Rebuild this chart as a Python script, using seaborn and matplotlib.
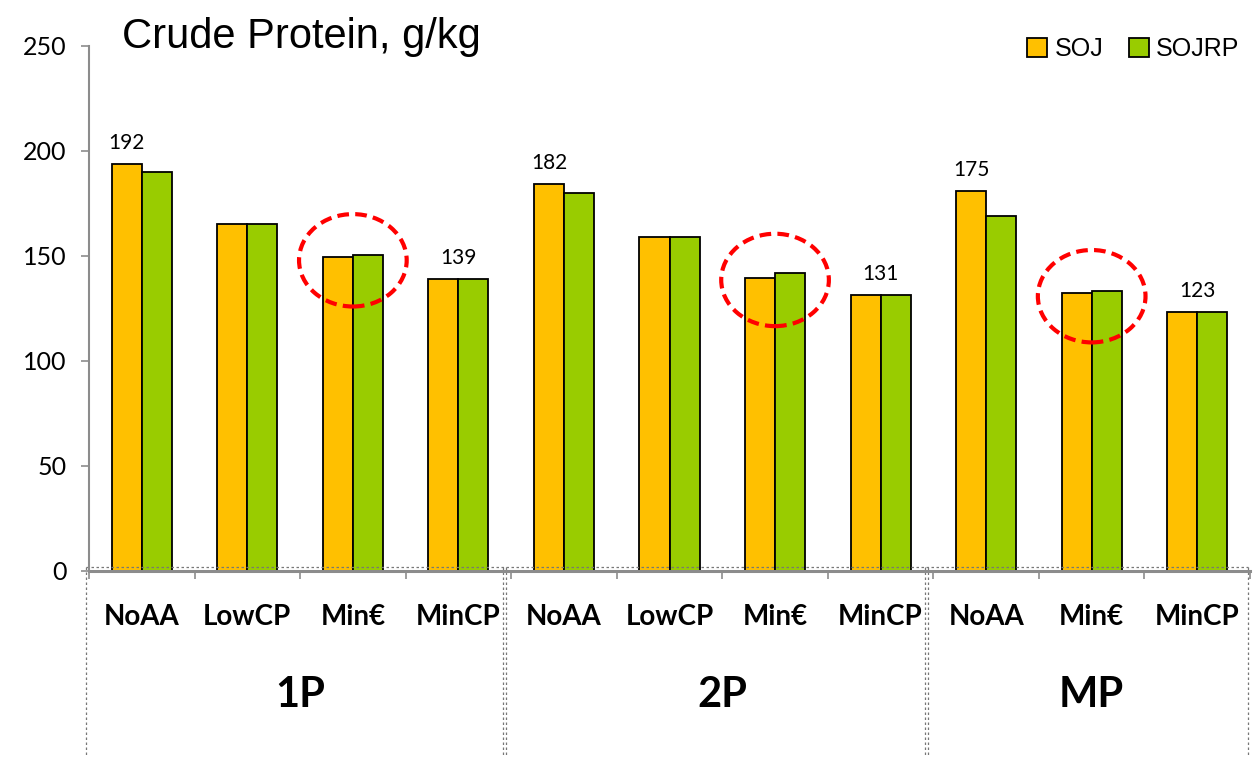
import numpy as np
import pandas as pd
import seaborn as sns
from matplotlib import pyplot as plt
from matplotlib.patches import Ellipse

# ---------------------------------------------------------------------------
# Data
# ---------------------------------------------------------------------------
groups = ["1P", "1P", "1P", "1P", "2P", "2P", "2P", "2P", "MP", "MP", "MP"]
diets = ["NoAA", "LowCP", "Min€", "MinCP",
         "NoAA", "LowCP", "Min€", "MinCP",
         "NoAA", "Min€", "MinCP"]
soj = [193.8, 165.4, 149.3, 139.0, 184.1, 158.9, 139.5, 131.4, 180.8, 132.4, 123.3]
sojrp = [190.0, 165.4, 150.6, 139.0, 180.1, 158.9, 141.7, 131.4, 169.0, 133.3, 123.3]
series_names = ["SOJ", "SOJRP"]

group_names = ["1P", "2P", "MP"]

# value labels: (category index, text, over SOJ bar only?)
value_labels = [(0, "192", True), (3, "139", False),
                (4, "182", True), (7, "131", False),
                (8, "175", True), (10, "123", False)]

# categories circled in red
highlight = [2, 6, 9]

ORANGE = "#FFC000"
GREEN = "#99CC00"

# ---------------------------------------------------------------------------
keys = [f"{g} {d}" for g, d in zip(groups, diets)]
df = pd.DataFrame({"key": keys, "SOJ": soj, "SOJRP": sojrp})
long = df.melt(id_vars="key", var_name="series", value_name="value")

sns.set_theme(style="white")
plt.rcParams["font.family"] = ["Lato", "DejaVu Sans"]
plt.rcParams["text.color"] = "black"
plt.rcParams["xtick.labelcolor"] = "black"
plt.rcParams["ytick.labelcolor"] = "black"

fig = plt.figure(figsize=(12.56, 7.57), dpi=100)
ax = fig.add_axes([89 / 1256, 1 - 571 / 757, 1161 / 1256, 525 / 757])

sns.barplot(data=long, x="key", y="value", hue="series", order=keys,
            hue_order=series_names, palette=[ORANGE, GREEN], saturation=1,
            width=0.57, gap=0, edgecolor="black", linewidth=1.3, ax=ax)

handles, labels = ax.get_legend_handles_labels()
ax.get_legend().remove()

ax.set_xlim(-0.5, len(keys) - 0.5)
ax.set_ylim(0, 250)
ax.set_yticks(np.arange(0, 251, 50))
ax.set_xlabel("")
ax.set_ylabel("")

for s in ["top", "right"]:
    ax.spines[s].set_visible(False)
ax.spines["left"].set_color("#8c8c8c")
ax.spines["left"].set_linewidth(1.5)
ax.spines["bottom"].set_color("#8c8c8c")
ax.spines["bottom"].set_linewidth(2.2)

ax.tick_params(axis="y", which="major", left=True, direction="out", length=6,
               width=1.2, color="#8c8c8c", labelsize=18, pad=10,
               labelcolor="black")

# category labels at centres, tick marks at the boundaries
ax.set_xticks(range(len(keys)))
ax.set_xticklabels(diets, fontsize=20, fontweight="bold", color="black")
ax.tick_params(axis="x", which="major", length=0, pad=24)
ax.set_xticks(np.arange(-0.5, len(keys)), minor=True)
ax.tick_params(axis="x", which="minor", bottom=True, direction="out",
               length=6, width=1.2, color="#8c8c8c")

# group labels and the dotted category boxes below the axis
xtr = ax.get_xaxis_transform()
starts = [groups.index(g) for g in group_names]
ends = [len(groups) - 1 - groups[::-1].index(g) for g in group_names]
for g, a, b in zip(group_names, starts, ends):
    ax.text((a + b) / 2, -0.236, g, transform=xtr, ha="center", va="center",
            fontsize=30, fontweight="bold", color="black")
box_kw = dict(transform=xtr, clip_on=False, color="#777777", lw=0.9,
              linestyle=(0, (2, 2)))
ax.plot([-0.53, len(keys) - 0.52], [0.008, 0.008], **box_kw)
ax.plot([-0.53, -0.53], [0.008, -0.36], **box_kw)
ax.plot([len(keys) - 0.52, len(keys) - 0.52], [0.008, -0.36], **box_kw)
for a in starts[1:]:
    for off in (0.05, 0.08):
        ax.plot([a - 0.5 - off] * 2, [0.008, -0.36], **box_kw)

# value labels
bar_off = 0.57 / 4
for i, txt, over_soj in value_labels:
    x = i - bar_off if over_soj else i
    y = soj[i] if over_soj else max(soj[i], sojrp[i])
    ax.annotate(txt, (x, y), xytext=(0, 8), textcoords="offset points",
                ha="center", va="bottom", fontsize=15, color="black")

# red dashed circles
for i in highlight:
    yc = (soj[i] + sojrp[i]) / 2 - 2
    ax.add_patch(Ellipse((i, yc), 1.02, 44, fill=False, edgecolor="#FF0000",
                         linewidth=3, linestyle=(0, (2.8, 1.5)), clip_on=False))

# title and legend
fig.text(122 / 1256, 1 - 48 / 757, "Crude Protein, g/kg", fontsize=30,
         family=["Liberation Sans", "DejaVu Sans"], ha="left", va="baseline",
         color="black")

for h in handles:
    h.set_edgecolor("black")
    h.set_linewidth(1.3)
fig.legend(handles, labels, loc="center right",
           bbox_to_anchor=(1252 / 1256, 1 - 49 / 757), ncol=2, frameon=False,
           borderpad=0, handlelength=0.8, handleheight=0.8, handletextpad=0.3,
           columnspacing=1.0, labelcolor="black",
           prop={"family": ["Liberation Sans", "DejaVu Sans"], "size": 18})

fig.savefig("out.png", dpi=100, facecolor="white")
